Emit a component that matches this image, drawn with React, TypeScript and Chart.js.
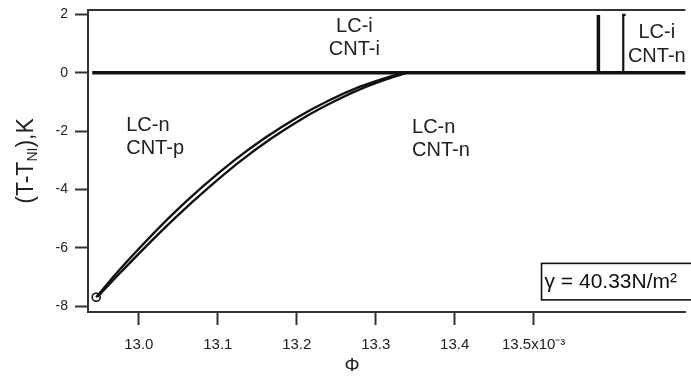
import React, { useEffect, useRef } from "react";
import { Chart, registerables } from "chart.js";

Chart.register(...registerables);

// ---- data (Φ in units of 10^-3, T - T_NI in K) ----
const PHI_UPPER = [12.946, 12.970, 13.000, 13.040, 13.080, 13.120, 13.160, 13.200, 13.240, 13.280, 13.310, 13.335];
const T_UPPER = [-7.69, -6.92, -6.03, -4.92, -3.92, -3.02, -2.23, -1.54, -0.96, -0.48, -0.20, 0];
const PHI_LOWER = [12.948, 12.974, 13.006, 13.048, 13.089, 13.129, 13.169, 13.209, 13.249, 13.288, 13.316, 13.340];
const T_LOWER = [-7.66, -6.92, -6.03, -4.92, -3.92, -3.02, -2.23, -1.54, -0.96, -0.48, -0.20, 0];
const MARKER_PHI = [12.946];
const MARKER_T = [-7.69];
const ZERO_PHI = [12.941, 13.70];
const ZERO_T = [0, 0];
const THICK_PHI = [13.582, 13.582];
const THICK_T = [0, 1.98];
const THIN_PHI = [13.6135, 13.6135, 13.6165];
const THIN_T = [0, 1.98, 1.98];

const X_TICKS = [13.0, 13.1, 13.2, 13.3, 13.4, 13.5];
const X_TICK_LABELS = ["13.0", "13.1", "13.2", "13.3", "13.4", "13.5x10\u207B\u00B3"];
const Y_TICKS = [2, 0, -2, -4, -6, -8];
const Y_TICK_LABELS = ["2", "0", "-2", "-4", "-6", "-8"];
const X_MIN = 12.9356;
const X_MAX = 13.6922;
const Y_MIN = -8.195;
const Y_MAX = 2.147;

const REGION_LABELS = [
  { lines: ["LC-i", "CNT-i"], phi: 13.273, t: [1.575, 0.79], align: "center" },
  { lines: ["LC-n", "CNT-p"], phi: 12.984, t: [-1.82, -2.58], align: "left" },
  { lines: ["LC-n", "CNT-n"], phi: 13.346, t: [-1.88, -2.66], align: "left" },
  { lines: ["LC-i", "CNT-n"], phi: 13.656, t: [1.37, 0.56], align: "center" },
];
const GAMMA_TEXT = "\u03B3 = 40.33N/m\u00B2";

const pts = (xs: number[], ys: number[]) => xs.map((x, i) => ({ x, y: ys[i] }));

const FONT = "'Liberation Sans', Arial, sans-serif";

const overlay = {
  id: "overlay",
  afterDatasetsDraw(chart: any) {
    const { ctx, chartArea, scales } = chart;
    const xs = scales.x;
    const ys = scales.y;
    ctx.save();
    // top frame line
    ctx.strokeStyle = "#333";
    ctx.lineWidth = 2;
    ctx.beginPath();
    ctx.moveTo(chartArea.left, chartArea.top);
    ctx.lineTo(chartArea.right, chartArea.top);
    ctx.stroke();

    // region labels
    ctx.fillStyle = "#222";
    ctx.font = `20px ${FONT}`;
    ctx.textBaseline = "middle";
    for (const lab of REGION_LABELS) {
      ctx.textAlign = lab.align as CanvasTextAlign;
      const px = xs.getPixelForValue(lab.phi);
      lab.lines.forEach((s, i) => ctx.fillText(s, px, ys.getPixelForValue(lab.t[i])));
    }

    // gamma box
    const bx = xs.getPixelForValue(13.51);
    const byTop = ys.getPixelForValue(-6.53);
    const byBot = ys.getPixelForValue(-7.78);
    ctx.fillStyle = "#fff";
    ctx.fillRect(bx, byTop, chartArea.right + 10 - bx, byBot - byTop);
    ctx.strokeStyle = "#111";
    ctx.lineWidth = 1.6;
    ctx.strokeRect(bx, byTop, chartArea.right + 10 - bx, byBot - byTop);
    ctx.fillStyle = "#111";
    ctx.font = `21px ${FONT}`;
    ctx.textAlign = "left";
    ctx.textBaseline = "middle";
    ctx.fillText(GAMMA_TEXT, bx + 3, (byTop + byBot) / 2 + 1);
    ctx.restore();
  },
  afterDraw(chart: any) {
    const { ctx, chartArea } = chart;
    ctx.save();
    // y title with subscript
    ctx.translate(25, (chartArea.top + chartArea.bottom) / 2);
    ctx.rotate(-Math.PI / 2);
    ctx.fillStyle = "#222";
    ctx.textBaseline = "alphabetic";
    ctx.textAlign = "left";
    const big = `23px ${FONT}`;
    const small = `14px ${FONT}`;
    ctx.font = big;
    const a = "(T-T";
    const c = "),K";
    const wa = ctx.measureText(a).width;
    const wc = ctx.measureText(c).width;
    ctx.font = small;
    const wb = ctx.measureText("NI").width;
    const total = wa + wb + wc;
    const x0 = -total / 2;
    const base = 8;
    ctx.font = big;
    ctx.fillText(a, x0, base);
    ctx.font = small;
    ctx.fillText("NI", x0 + wa, base + 4);
    ctx.font = big;
    ctx.fillText(c, x0 + wa + wb, base);
    ctx.restore();

    // x title
    ctx.save();
    ctx.fillStyle = "#222";
    ctx.font = `19px ${FONT}`;
    ctx.textAlign = "center";
    ctx.textBaseline = "middle";
    ctx.fillText("\u03A6", 352, 366);
    ctx.restore();
  },
};

export default function App() {
  const ref = useRef<HTMLCanvasElement | null>(null);
  useEffect(() => {
    document.body.style.margin = "0";
    const canvas = ref.current!;
    const line = (data: any, width: number) => ({
      data,
      showLine: true,
      borderColor: "#111",
      borderWidth: width,
      pointRadius: 0,
      fill: false,
    });
    const chart = new Chart(canvas, {
      type: "scatter",
      data: {
        datasets: [
          line(pts(ZERO_PHI, ZERO_T), 3.5),
          line(pts(THICK_PHI, THICK_T), 3.5),
          line(pts(THIN_PHI, THIN_T), 2.2),
          { ...line(pts(PHI_UPPER, T_UPPER), 2.4), cubicInterpolationMode: "monotone" },
          { ...line(pts(PHI_LOWER, T_LOWER), 2.4), cubicInterpolationMode: "monotone" },
          {
            data: pts(MARKER_PHI, MARKER_T),
            showLine: false,
            pointRadius: 4,
            pointBackgroundColor: "#fff",
            pointBorderColor: "#111",
            pointBorderWidth: 1.6,
          },
        ] as any,
      },
      options: {
        animation: false,
        responsive: false,
        devicePixelRatio: 1,
        layout: { padding: { top: 10, left: 0, right: 0, bottom: 0 } },
        plugins: { legend: { display: false }, tooltip: { enabled: false } },
        scales: {
          x: {
            type: "linear",
            min: X_MIN,
            max: X_MAX,
            afterBuildTicks: (s: any) => {
              s.ticks = X_TICKS.map((v) => ({ value: v }));
            },
            afterFit: (s: any) => {
              s.height = 66;
              s.paddingLeft = 0;
              s.paddingRight = 0;
            },
            ticks: {
              autoSkip: false,
              maxRotation: 0,
              padding: 11,
              color: "#222",
              font: { size: 15, family: FONT },
              callback: (v: any) => {
                const i = X_TICKS.findIndex((t) => Math.abs(t - v) < 1e-6);
                return i >= 0 ? X_TICK_LABELS[i] : "";
              },
            },
            grid: { drawOnChartArea: false, drawTicks: true, tickLength: 13, tickColor: "#333", tickWidth: 2 },
            border: { display: true, color: "#333", width: 2 },
          },
          y: {
            type: "linear",
            min: Y_MIN,
            max: Y_MAX,
            afterBuildTicks: (s: any) => {
              s.ticks = Y_TICKS.map((v) => ({ value: v }));
            },
            afterFit: (s: any) => {
              s.width = 88;
              s.paddingTop = 0;
              s.paddingBottom = 0;
            },
            ticks: {
              autoSkip: false,
              padding: 7,
              color: "#222",
              font: { size: 14, family: FONT },
              callback: (v: any) => {
                const i = Y_TICKS.findIndex((t) => Math.abs(t - v) < 1e-6);
                return i >= 0 ? Y_TICK_LABELS[i] : "";
              },
            },
            grid: { drawOnChartArea: false, drawTicks: true, tickLength: 13, tickColor: "#333", tickWidth: 2 },
            border: { display: true, color: "#333", width: 2 },
          },
        },
      },
      plugins: [overlay],
    });
    return () => chart.destroy();
  }, []);
  return <canvas ref={ref} width={691} height={378} style={{ display: "block" }} />;
}
